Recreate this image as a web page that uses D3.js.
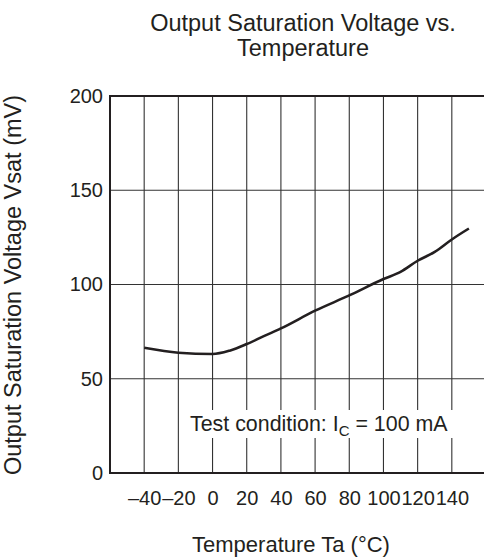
<!DOCTYPE html>
<html>
<head>
<meta charset="utf-8">
<script src="https://cdn.jsdelivr.net/npm/d3@7/dist/d3.min.js"></script>
<style>
  html, body { margin: 0; padding: 0; background: #fff; }
  svg { display: block; }
  text { font-family: "Liberation Sans", Arial, Helvetica, sans-serif; fill: #231f20; }
</style>
</head>
<body>
<svg id="chart" width="484" height="560"></svg>
<script>
// ---- data ----
const temperatures = [-40, -20, 0, 10, 20, 30, 40, 60, 80, 100, 110, 120, 130, 140, 150];
const vsat = [66.4, 63.8, 63.1, 64.9, 68.4, 72.6, 76.7, 86.1, 94.2, 102.9, 106.7, 112.6, 117.3, 123.9, 129.7];
const xTicks = [-40, -20, 0, 20, 40, 60, 80, 100, 120, 140];
const yTicks = [0, 50, 100, 150, 200];
const titleLines = ["Output Saturation Voltage vs.", "Temperature"];
const xTitle = "Temperature Ta (\u00B0C)";
const yTitle = "Output Saturation Voltage Vsat (mV)";

// ---- layout ----
const svg = d3.select("#chart");
const x = d3.scaleLinear().domain([-60, 160]).range([110, 486]);
const y = d3.scaleLinear().domain([0, 200]).range([473, 96]);
const ink = "#231f20";

// grid
const grid = svg.append("g");
grid.selectAll("line.v").data(xTicks).join("line")
  .attr("x1", d => x(d)).attr("x2", d => x(d))
  .attr("y1", y(200)).attr("y2", y(0))
  .attr("stroke", "#333").attr("stroke-width", 1.1);
grid.selectAll("line.h").data(yTicks.filter(d => d > 0 && d < 200)).join("line")
  .attr("x1", x(-60)).attr("x2", x(160))
  .attr("y1", d => y(d)).attr("y2", d => y(d))
  .attr("stroke", "#333").attr("stroke-width", 1.1);

// frame: top, left, bottom
svg.append("line").attr("x1", x(-60)).attr("x2", x(160)).attr("y1", y(200)).attr("y2", y(200))
  .attr("stroke", ink).attr("stroke-width", 2);
svg.append("line").attr("x1", x(-60)).attr("x2", x(160)).attr("y1", y(0)).attr("y2", y(0))
  .attr("stroke", ink).attr("stroke-width", 2);
svg.append("line").attr("x1", x(-60)).attr("x2", x(-60)).attr("y1", y(200) - 1).attr("y2", y(0) + 1)
  .attr("stroke", ink).attr("stroke-width", 2);

// curve
const pts = temperatures.map((t, i) => [t, vsat[i]]);
svg.append("path").datum(pts)
  .attr("fill", "none").attr("stroke", ink).attr("stroke-width", 2.6)
  .attr("stroke-linejoin", "round").attr("stroke-linecap", "butt")
  .attr("d", d3.line().x(d => x(d[0])).y(d => y(d[1])).curve(d3.curveMonotoneX));

// axes (labels only, using d3 axis generators)
const xAxis = svg.append("g").attr("transform", `translate(0,${y(0)})`)
  .call(d3.axisBottom(x).tickValues(xTicks).tickSize(0).tickPadding(18)
    .tickFormat(d => d < 0 ? "\u2013" + Math.abs(d) : String(d)));
xAxis.select(".domain").remove();
xAxis.selectAll("text").attr("font-size", 20).attr("fill", ink)
  .style("font-family", '"Liberation Sans", Arial, sans-serif');

const yAxis = svg.append("g").attr("transform", `translate(${x(-60)},0)`)
  .call(d3.axisLeft(y).tickValues(yTicks).tickSize(0).tickPadding(7));
yAxis.select(".domain").remove();
yAxis.selectAll("text").attr("font-size", 20).attr("fill", ink)
  .style("font-family", '"Liberation Sans", Arial, sans-serif');

// test condition label with white background
svg.append("rect").attr("x", 183).attr("y", 410).attr("width", 275).attr("height", 28).attr("fill", "#fff");
const tc = svg.append("text").attr("x", 190).attr("y", 431).attr("font-size", 21.4);
tc.append("tspan").text("Test condition: I");
tc.append("tspan").attr("font-size", 15).attr("dy", 5).text("C");
tc.append("tspan").attr("dy", -5).text(" = 100 mA");

// titles
svg.append("g").selectAll("text").data(titleLines).join("text")
  .attr("x", 303).attr("y", (d, i) => 31 + i * 25)
  .attr("text-anchor", "middle").attr("font-size", 23.5).text(d => d);

svg.append("text").attr("x", 291).attr("y", 552).attr("text-anchor", "middle")
  .attr("font-size", 22).text(xTitle);

svg.append("text").attr("transform", "translate(21,285) rotate(-90)")
  .attr("text-anchor", "middle").attr("font-size", 23.5).text(yTitle);
</script>
</body>
</html>
